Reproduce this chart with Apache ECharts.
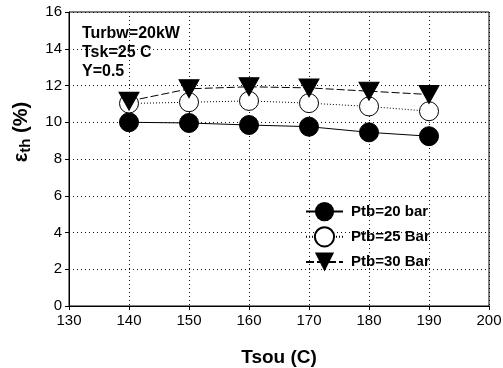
<!DOCTYPE html>
<html>
<head>
<meta charset="utf-8">
<script src="https://cdn.jsdelivr.net/npm/echarts@6/dist/echarts.min.js"></script>
<style>
  html, body { margin: 0; padding: 0; background: #fff; }
  #chart { width: 503px; height: 368px; }
</style>
</head>
<body>
<div id="chart"></div>
<script>
// Tsou (C)
const tsou = [140, 150, 160, 170, 180, 190];
// efficiency (%) per turbine pressure
const ptb20 = [10.0, 9.96, 9.85, 9.76, 9.45, 9.24];
const ptb25 = [11.02, 11.09, 11.16, 11.04, 10.86, 10.6];
const ptb30 = [11.15, 11.82, 11.93, 11.87, 11.69, 11.51];
const seriesNames = ['Ptb=20 bar', 'Ptb=25 Bar', 'Ptb=30 Bar'];
const notes = ['Turbw=20kW', 'Tsk=25 C', 'Y=0.5'];

const font = 'Liberation Sans, Arial, sans-serif';
const chart = echarts.init(document.getElementById('chart'));

const pairs = (ys) => tsou.map((x, i) => [x, ys[i]]);

const gridLine = { show: true, lineStyle: { color: '#0000a0', type: [1, 3], width: 1 } };

chart.setOption({
  animation: false,
  grid: {
    left: 69, right: 14, top: 12, bottom: 62,
    outerBoundsMode: 'none', containLabel: false,
    show: true, borderColor: '#000', borderWidth: 1
  },
  xAxis: {
    type: 'value', min: 130, max: 200, interval: 10,
    name: 'Tsou (C)', nameLocation: 'middle', nameGap: 42,
    nameTextStyle: { fontFamily: font, fontWeight: 'bold', fontSize: 19, color: '#000' },
    axisLine: { lineStyle: { color: '#000' } },
    axisTick: { lineStyle: { color: '#000' }, length: 4 },
    axisLabel: { fontFamily: font, fontSize: 15, color: '#000', margin: 7 },
    splitLine: gridLine
  },
  yAxis: {
    type: 'value', min: 0, max: 16, interval: 2,
    name: '{e|ε}{s|th}{e| (%)}', nameLocation: 'middle', nameGap: 36,
    nameTextStyle: {
      padding: [0, 0, 0, 54],
      rich: {
        e: { fontFamily: font, fontWeight: 'bold', fontSize: 20, color: '#000' },
        s: { fontFamily: font, fontWeight: 'bold', fontSize: 15, color: '#000', verticalAlign: 'bottom', padding: [8, 0, 0, 0] }
      }
    },
    axisLine: { lineStyle: { color: '#000' } },
    axisTick: { lineStyle: { color: '#000' }, length: 4 },
    axisLabel: { fontFamily: font, fontSize: 15, color: '#000', margin: 7 },
    splitLine: gridLine
  },
  legend: {
    orient: 'vertical', left: 305, top: 202, itemGap: 5, padding: 0,
    itemWidth: 37, itemHeight: 24,
    textStyle: { fontFamily: font, fontWeight: 'bold', fontSize: 15, color: '#000', padding: [0, 0, 0, 3] },
    data: seriesNames
  },
  graphic: notes.map((t, i) => ({
    type: 'text', left: 82, top: 26 + i * 19,
    style: { text: t, font: 'bold 16px ' + font, fill: '#000' }
  })),
  series: [
    {
      name: seriesNames[0], type: 'line', data: pairs(ptb20),
      symbol: 'circle', symbolSize: 19,
      itemStyle: { color: '#000', borderColor: '#000' },
      lineStyle: { color: '#000', width: 1, type: 'solid' }
    },
    {
      name: seriesNames[1], type: 'line', data: pairs(ptb25),
      symbol: 'circle', symbolSize: 19,
      itemStyle: { color: '#fff', borderColor: '#000', borderWidth: 1 },
      lineStyle: { color: '#000', width: 1, type: [1, 2] }
    },
    {
      name: seriesNames[2], type: 'line', data: pairs(ptb30),
      symbol: 'triangle', symbolRotate: 180, symbolSize: [20, 18],
      itemStyle: { color: '#000', borderColor: '#000' },
      lineStyle: { color: '#000', width: 1, type: [8, 3] }
    }
  ]
});
</script>
</body>
</html>
